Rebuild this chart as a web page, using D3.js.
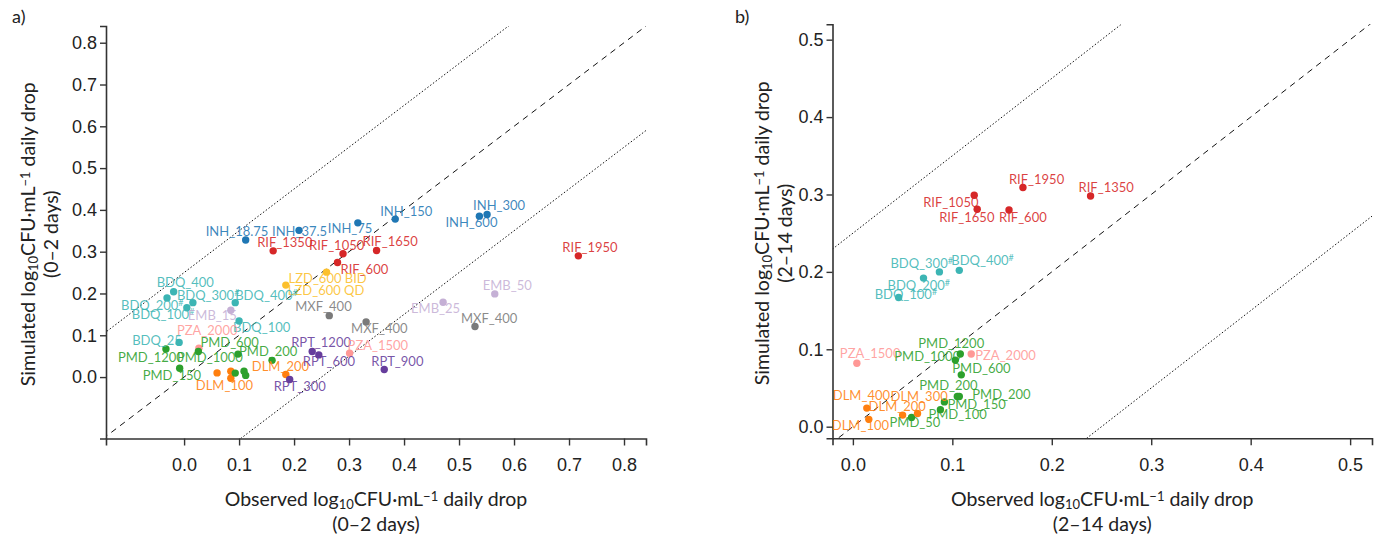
<!DOCTYPE html>
<html>
<head>
<meta charset="utf-8">
<script src="https://cdn.jsdelivr.net/npm/d3@7"></script>
<style>
  body { margin: 0; background: #fff; }
  svg { font-family: Lato, "Noto Sans", sans-serif; }
</style>
</head>
<body>
<script>
// panel a) 0-2 days
let drugA = ["INH","INH","INH","INH","INH","INH","RIF","RIF","RIF","RIF","RIF","LZD","LZD",
    "BDQ","BDQ","BDQ","BDQ","BDQ","EMB","MXF","BDQ","PZA","BDQ","PMD","PMD","PMD","PMD","PMD",
    "DLM","DLM","DLM","PMD","PMD","PMD","DLM","RPT","RPT","RPT","PZA","RPT","MXF","EMB","EMB","MXF"];
let labelA = ["INH_18.75","INH_37.5","INH_75","INH_150","INH_300","INH_600","RIF_1350","RIF_1050","RIF_600","RIF_1650","RIF_1950",
    "LZD_600 BID","LZD_600 QD","BDQ_400","BDQ_300#","BDQ_400#","BDQ_200#","BDQ_100#","EMB_15","MXF_400","BDQ_100","PZA_2000",
    "BDQ_25","PMD_600","PMD_1200","PMD_1000","PMD_200","PMD_150","","DLM_100","","","","","DLM_200","RPT_300","RPT_1200",
    "RPT_600","PZA_1500","RPT_900","MXF_400","EMB_50","EMB_25","MXF_400"];
let obsA = [0.112,0.209,0.316,0.384,0.551,0.537,0.162,0.289,0.279,0.350,0.717,0.259,0.185,
    -0.019,0.016,0.093,-0.031,0.005,0.085,0.264,0.100,0.027,-0.009,0.026,-0.033,0.098,0.160,-0.008,
    0.060,0.085,0.085,0.093,0.109,0.112,0.185,0.192,0.233,0.245,0.301,0.364,0.331,0.565,0.471,0.529];
let simA = [0.328,0.351,0.369,0.378,0.389,0.385,0.302,0.295,0.274,0.303,0.290,0.251,0.220,
    0.204,0.178,0.178,0.189,0.166,0.160,0.147,0.134,0.069,0.083,0.061,0.067,0.055,0.040,0.021,
    0.010,-0.003,0.014,0.0095,0.014,0.004,0.006,-0.006,0.061,0.053,0.057,0.018,0.132,0.199,0.179,0.121];
// label nudges in px (text start, baseline) relative to the dot
let nudgeA = [[-40,-4],[-27,6],[-30,10],[-15,-3],[-14,-4],[-34,11],[-16,-4],[-34,-4],[3,11],[-14,-4],[-16,-4],[-38,11],[2,10],
    [-17,-5],[-16,-3],[0,-3],[-46,12],[-55,11],[-43,10],[-34,-5],[-6,11],[-22,-13],[-47,3],[2,-5],[-48,13],[-61,8],[-33,-4],[-37,12],
    [0,0],[-35,12],[0,0],[0,0],[0,0],[0,0],[-34,-4],[-16,11],[-21,-5],[-16,11],[-2,-3],[-13,-4],[-15,11],[-12,-4],[-32,11],[-14,-3]];

// panel b) 2-14 days
let drugB = ["RIF","RIF","RIF","RIF","RIF","BDQ","BDQ","BDQ","BDQ","PZA","PMD","PMD","PZA","PMD",
    "PMD","PMD","PMD","PMD","PMD","DLM","DLM","DLM","DLM"];
let labelB = ["RIF_1050","RIF_1650","RIF_600","RIF_1950","RIF_1350","BDQ_300#","BDQ_400#","BDQ_200#","BDQ_100#",
    "PZA_1500","PMD_1200","PMD_1000","PZA_2000","PMD_600","PMD_200","PMD_200","PMD_150","PMD_100","PMD_50",
    "DLM_400","DLM_300","DLM_200","DLM_100"];
let obsB = [0.122,0.125,0.157,0.171,0.239,0.087,0.107,0.071,0.046,0.004,0.108,0.103,0.119,0.109,
    0.105,0.107,0.092,0.088,0.059,0.014,0.065,0.050,0.016];
let simB = [0.299,0.281,0.280,0.309,0.298,0.200,0.202,0.192,0.167,0.082,0.094,0.086,0.094,0.067,
    0.039,0.039,0.032,0.022,0.012,0.024,0.017,0.015,0.0095];
let nudgeB = [[-51,12],[-38,13],[-10,12],[-14,-4],[-12,-4],[-49,-4],[-8,-5],[-36,12],[-24,2],[-17,-5],[-42,-6],[-61,1],[4,6],[-9,-2],
    [-38,-7],[13,2],[3,7],[-12,9],[-22,10],[-34,-8],[-27,-13],[-34,-4],[-37,11]];

let ticksA = [0.0,0.1,0.2,0.3,0.4,0.5,0.6,0.7,0.8];
let ticksB = [0.0,0.1,0.2,0.3,0.4,0.5];
let bandOffset = 0.25;

let drugColor = {INH:"#1f77b4", RIF:"#d62728", LZD:"#fcc02c", BDQ:"#3cb5b4", EMB:"#c5b0d5",
    MXF:"#7a7a7a", PZA:"#ff9896", PMD:"#2ca02c", DLM:"#ff7f0e", RPT:"#663d9c"};

let svg = d3.select("body").append("svg").attr("width", 1379).attr("height", 537);

function addLogTitle(t, first)
{
    t.append("tspan").text(first + " log");
    t.append("tspan").attr("baseline-shift", "-25%").attr("font-size", "13px").text("10");
    t.append("tspan").text("CFU·mL");
    t.append("tspan").attr("baseline-shift", "35%").attr("font-size", "13px").text("−1");
    t.append("tspan").text(" daily drop");
}

function drawPanel(p)
{
    let x = d3.scaleLinear().domain(p.xdom).range(p.xr);
    let y = d3.scaleLinear().domain(p.ydom).range(p.yr);
    let g = svg.append("g");

    g.append("clipPath").attr("id", "clip" + p.id)
        .append("rect").attr("x", p.xr[0]).attr("y", p.yr[1])
        .attr("width", p.xr[1] - p.xr[0]).attr("height", p.yr[0] - p.yr[1]);

    let lines = [{o: 0, dash: "6,5"}, {o: bandOffset, dash: "1.5,2"}, {o: -bandOffset, dash: "1.5,2"}];
    g.append("g").attr("clip-path", "url(#clip" + p.id + ")")
        .selectAll("line").data(lines).enter().append("line")
        .attr("x1", x(p.xdom[0] - 0.5)).attr("y1", d => y(p.xdom[0] - 0.5 + d.o))
        .attr("x2", x(p.xdom[1] + 0.5)).attr("y2", d => y(p.xdom[1] + 0.5 + d.o))
        .attr("stroke", "#111").attr("stroke-width", 1).attr("stroke-dasharray", d => d.dash);

    let xa = g.append("g").attr("transform", "translate(0," + p.yr[0] + ")")
        .call(d3.axisBottom(x).tickValues(p.ticksX).tickFormat(d3.format(".1f")).tickSize(7).tickPadding(13));
    let ya = g.append("g").attr("transform", "translate(" + p.xr[0] + ",0)")
        .call(d3.axisLeft(y).tickValues(p.ticksY).tickFormat(d3.format(".1f")).tickSize(6).tickPadding(3));
    for (let a of [xa, ya])
    {
        a.select(".domain").attr("stroke", "#333").attr("stroke-width", 1.6);
        a.selectAll(".tick line").attr("stroke", "#333").attr("stroke-width", 1.4);
        a.selectAll(".tick text").attr("fill", "#222").attr("font-size", "18px");
    }

    let pts = p.obs.map((v, i) => ({x: v, y: p.sim[i], drug: p.drug[i], label: p.label[i], n: p.nudge[i]}));
    g.selectAll("circle.pt").data(pts).enter().append("circle")
        .attr("class", "pt")
        .attr("cx", d => x(d.x)).attr("cy", d => y(d.y)).attr("r", 3.7)
        .attr("fill", d => drugColor[d.drug]);

    let lab = g.selectAll("text.lab").data(pts.filter(d => d.label != "")).enter().append("text")
        .attr("class", "lab")
        .attr("x", d => x(d.x) + d.n[0]).attr("y", d => y(d.y) + d.n[1])
        .attr("font-size", "13px")
        .attr("fill", d => drugColor[d.drug]).attr("fill-opacity", 0.88);
    lab.each(function(d) {
        let t = d3.select(this);
        if (d.label.endsWith("#"))
        {
            t.append("tspan").text(d.label.slice(0, -1));
            t.append("tspan").attr("baseline-shift", "40%").attr("font-size", "9px").text("#");
        }
        else
            t.text(d.label);
    });

    // panel letter
    svg.append("text").attr("x", p.letterX).attr("y", 23).attr("font-size", "18px").attr("fill", "#222").text(p.letter);

    // axis titles
    let xc = (p.xr[0] + p.xr[1]) / 2;
    let xt = svg.append("text").attr("x", xc).attr("y", 506).attr("text-anchor", "middle")
        .attr("font-size", "19.5px").attr("fill", "#222");
    addLogTitle(xt, "Observed");
    svg.append("text").attr("x", xc).attr("y", 531).attr("text-anchor", "middle")
        .attr("font-size", "19.5px").attr("fill", "#222").text(p.period);

    let yc = (p.yr[0] + p.yr[1]) / 2 + 2;
    let yt = svg.append("text").attr("transform", "translate(" + p.ytX + "," + yc + ") rotate(-90)")
        .attr("text-anchor", "middle").attr("font-size", "19.5px").attr("fill", "#222");
    addLogTitle(yt, "Simulated");
    svg.append("text").attr("transform", "translate(" + (p.ytX + 23) + "," + yc + ") rotate(-90)")
        .attr("text-anchor", "middle").attr("font-size", "19.5px").attr("fill", "#222").text(p.period);
}

drawPanel({id: "a", letter: "a)", letterX: 12, period: "(0–2 days)", ytX: 35,
    xdom: [-0.142, 0.84], ydom: [-0.147, 0.84], xr: [106, 646], yr: [438.5, 26],
    ticksX: ticksA, ticksY: ticksA, drug: drugA, label: labelA, obs: obsA, sim: simA, nudge: nudgeA});
drawPanel({id: "b", letter: "b)", letterX: 735, period: "(2–14 days)", ytX: 769,
    xdom: [-0.0205, 0.522], ydom: [-0.015, 0.52], xr: [832.5, 1372], yr: [438.3, 24.2],
    ticksX: ticksB, ticksY: ticksB, drug: drugB, label: labelB, obs: obsB, sim: simB, nudge: nudgeB});
</script>
</body>
</html>
